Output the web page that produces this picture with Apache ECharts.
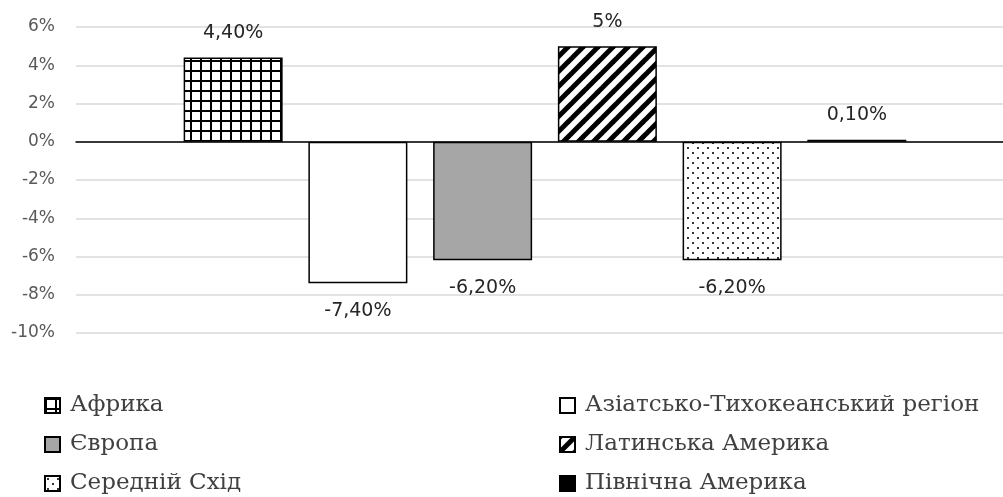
<!DOCTYPE html>
<html>
<head>
<meta charset="utf-8">
<script src="https://cdn.jsdelivr.net/npm/echarts@6/dist/echarts.min.js"></script>
<style>
html,body{margin:0;padding:0;background:#fff;overflow:hidden;width:1003px;height:497px;}
#chart{width:1014px;height:497px;}
</style>
</head>
<body>
<div id="chart"></div>
<script>
// Data
const regions = ['Африка', 'Азіатсько-Тихокеанський регіон', 'Європа', 'Латинська Америка', 'Середній Схід', 'Північна Америка'];
const values = [4.4, -7.4, -6.2, 5, -6.2, 0.1];
const valueLabels = ['4,40%', '-7,40%', '-6,20%', '5%', '-6,20%', '0,10%'];
const yTicks = { min: -10, max: 6, interval: 2 };

function makePattern(w, h, draw) {
  const c = document.createElement('canvas');
  c.width = w; c.height = h;
  const ctx = c.getContext('2d');
  ctx.fillStyle = '#fff';
  ctx.fillRect(0, 0, w, h);
  draw(ctx, w, h);
  return { image: c, repeat: 'repeat' };
}

const gridPat = makePattern(10, 10, (ctx) => {
  ctx.fillStyle = '#000';
  ctx.fillRect(0, 0, 10, 2);
  ctx.fillRect(0, 0, 2, 10);
});
const stripePat = makePattern(15, 15, (ctx) => {
  ctx.strokeStyle = '#000';
  ctx.lineWidth = 5;
  for (let k = -15; k <= 15; k += 15) {
    ctx.beginPath();
    ctx.moveTo(k - 5, 20);
    ctx.lineTo(k + 20, -5);
    ctx.stroke();
  }
});
const dotPat = makePattern(10, 10, (ctx) => {
  ctx.fillStyle = '#333';
  ctx.fillRect(2, 2, 2, 2);
  ctx.fillRect(7, 7, 2, 2);
});

const fills = [gridPat, '#ffffff', '#a6a6a6', stripePat, dotPat, '#000000'];

const series = regions.map((name, i) => ({
  name: name,
  type: 'bar',
  data: [values[i]],
  barWidth: 99,
  barGap: '26%',
  itemStyle: { color: fills[i], borderColor: '#000', borderWidth: 1.5 },
  label: {
    show: true,
    position: values[i] >= 0 ? 'top' : 'bottom',
    distance: values[i] >= 0 ? 15 : 18,
    formatter: () => valueLabels[i],
    fontFamily: 'DejaVu Sans',
    fontSize: 19,
    color: '#262626'
  }
}));

const legendText = { fontFamily: 'DejaVu Serif', fontSize: 23, lineHeight: 23, color: '#404040', padding: [0, 0, 0, 5] };

const chart = echarts.init(document.getElementById('chart'));
chart.setOption({
  animation: false,
  grid: { left: 76, right: 0, top: 27, bottom: 164, containLabel: false },
  xAxis: {
    type: 'category',
    data: [''],
    axisLine: { show: true, lineStyle: { color: '#000', width: 1.5 } },
    axisTick: { show: false },
    axisLabel: { show: false },
    splitLine: { show: false }
  },
  yAxis: {
    type: 'value',
    min: yTicks.min,
    max: yTicks.max,
    interval: yTicks.interval,
    axisLine: { show: false },
    axisTick: { show: false },
    axisLabel: { formatter: '{value}%', color: '#595959', fontFamily: 'DejaVu Sans', fontSize: 17, margin: 21 },
    splitLine: { lineStyle: { color: '#d9d9d9', width: 1.5 } }
  },
  legend: [
    { data: [regions[0], regions[2], regions[4]], orient: 'vertical', left: 44, top: 394, height: 110, width: 400, padding: 0,
      itemWidth: 15, itemHeight: 15, itemGap: 16, textStyle: legendText, icon: 'rect' },
    { data: [regions[1], regions[3], regions[5]], orient: 'vertical', left: 559, top: 394, height: 110, width: 450, padding: 0,
      itemWidth: 15, itemHeight: 15, itemGap: 16, textStyle: legendText, icon: 'rect' }
  ],
  series: series
});
</script>
</body>
</html>
